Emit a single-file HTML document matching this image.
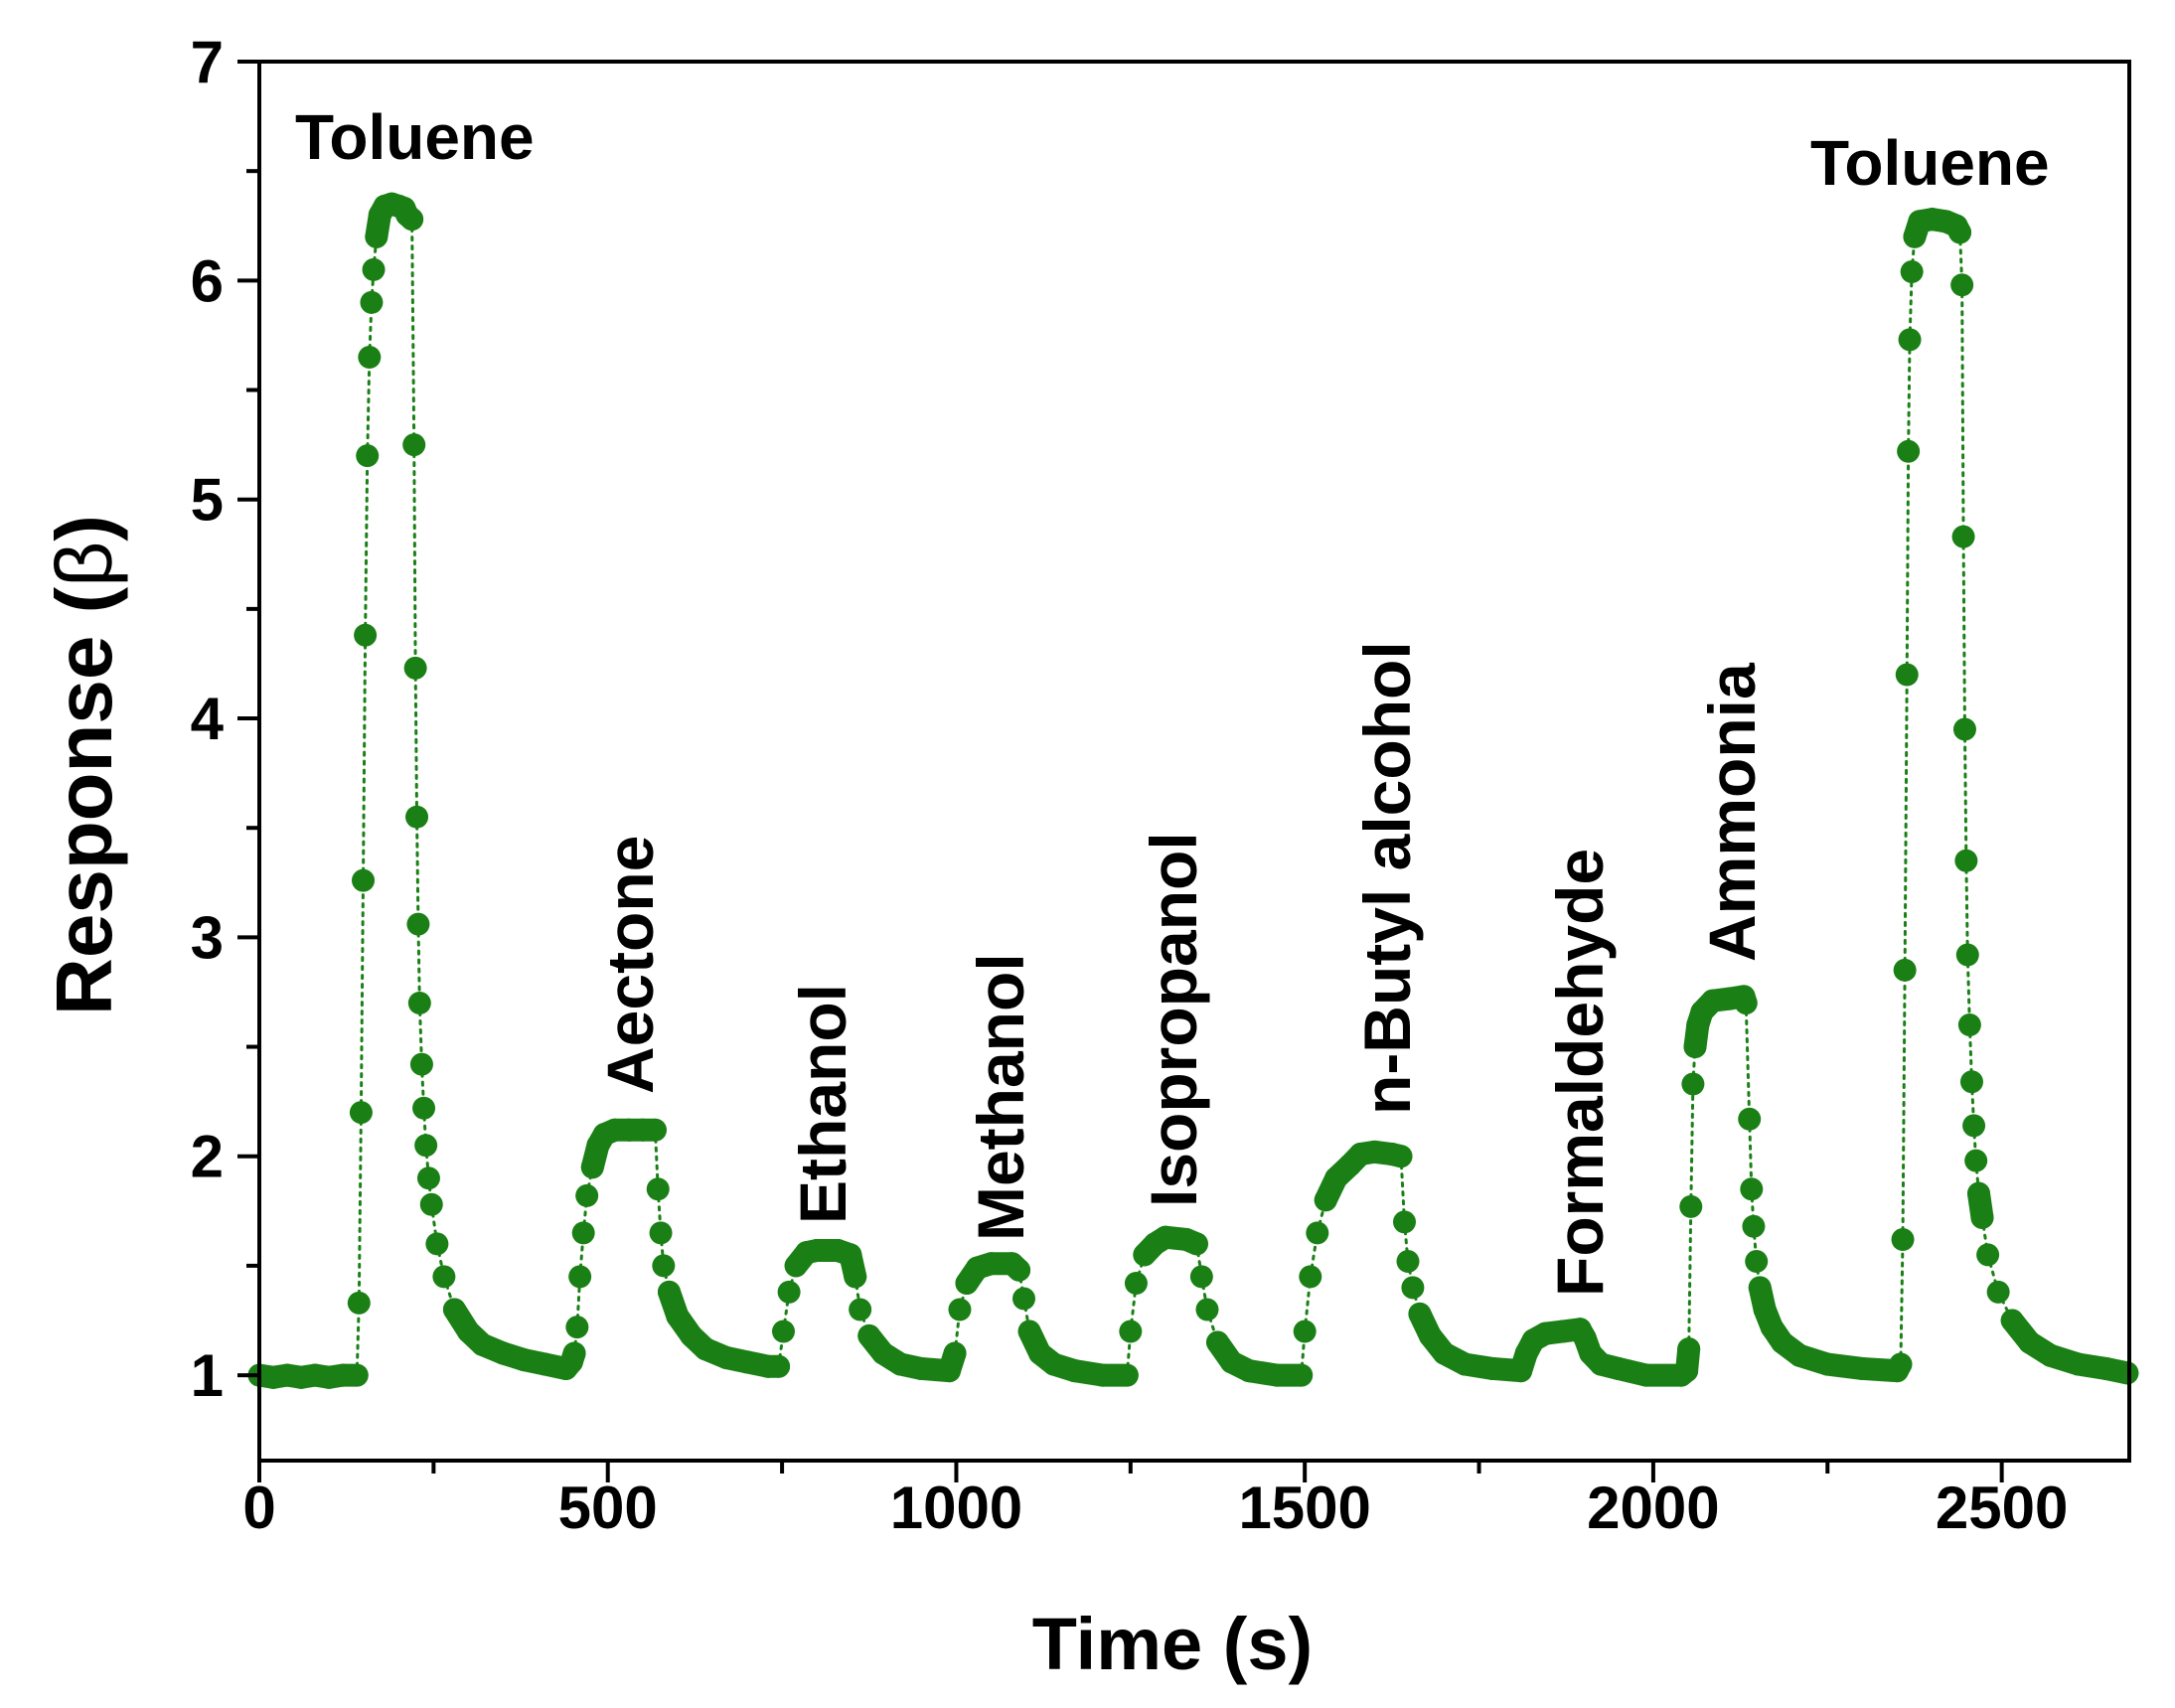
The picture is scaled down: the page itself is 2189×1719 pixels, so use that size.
<!DOCTYPE html>
<html><head><meta charset="utf-8"><style>
html,body{margin:0;padding:0;background:#fff;}
svg{display:block;font-family:"Liberation Sans",Arial,sans-serif;}
</style></head><body>
<svg id="chart" width="2189" height="1719" viewBox="0 0 2189 1719" xmlns="http://www.w3.org/2000/svg">
<g id="marks"></g>
<g id="axes"></g>
<g id="labels"></g>
</svg>
<script>
const times = [0,20,40,60,80,100,120,140,143,146,149,152,155,158,161,164,168,173,180,190,200,208,212,219,222,224,226,228,230,233,236,239,243,247,255,265,280,300,320,350,380,410,440,448,452,456,460,465,470,478,486,495,510,530,550,568,572,576,580,588,600,620,640,670,700,730,745,752,760,770,785,800,830,848,855,862,875,895,920,950,990,998,1005,1015,1030,1050,1080,1090,1097,1105,1120,1140,1170,1210,1245,1250,1258,1270,1285,1300,1330,1345,1352,1360,1375,1395,1420,1460,1495,1500,1508,1518,1530,1545,1565,1580,1600,1625,1638,1643,1648,1655,1665,1680,1700,1730,1770,1810,1818,1828,1845,1870,1895,1902,1910,1925,1950,1990,2040,2048,2051,2054,2057,2060,2064,2070,2085,2110,2130,2133,2138,2141,2144,2148,2153,2160,2170,2185,2210,2250,2300,2350,2355,2358,2361,2364,2366,2368,2371,2375,2382,2400,2420,2435,2440,2443,2445,2447,2449,2451,2454,2457,2460,2463,2467,2472,2480,2495,2515,2540,2570,2610,2650,2680];
const values = [1.0,0.99,1.0,0.99,1.0,0.99,1.0,1.0,1.33,2.2,3.26,4.38,5.2,5.65,5.9,6.05,6.2,6.3,6.34,6.35,6.34,6.33,6.3,6.28,5.25,4.23,3.55,3.06,2.7,2.42,2.22,2.05,1.9,1.78,1.6,1.45,1.3,1.2,1.14,1.1,1.07,1.05,1.03,1.06,1.1,1.22,1.45,1.65,1.82,1.95,2.05,2.1,2.12,2.12,2.12,2.12,1.85,1.65,1.5,1.38,1.27,1.18,1.12,1.08,1.06,1.04,1.04,1.2,1.38,1.5,1.56,1.57,1.57,1.55,1.45,1.3,1.18,1.1,1.05,1.03,1.02,1.1,1.3,1.42,1.49,1.51,1.51,1.48,1.35,1.2,1.1,1.05,1.02,1.0,1.0,1.2,1.42,1.55,1.6,1.63,1.62,1.6,1.45,1.3,1.15,1.06,1.02,1.0,1.0,1.2,1.45,1.65,1.8,1.9,1.96,2.01,2.02,2.01,2.0,1.7,1.52,1.4,1.28,1.18,1.1,1.05,1.03,1.02,1.1,1.16,1.19,1.2,1.21,1.17,1.1,1.05,1.03,1.0,1.0,1.02,1.12,1.77,2.33,2.5,2.6,2.66,2.71,2.72,2.73,2.7,2.17,1.85,1.68,1.52,1.4,1.3,1.22,1.15,1.09,1.05,1.03,1.02,1.05,1.62,2.85,4.2,5.22,5.73,6.04,6.2,6.27,6.28,6.27,6.25,6.22,5.98,4.83,3.95,3.35,2.92,2.6,2.34,2.14,1.98,1.83,1.72,1.55,1.38,1.25,1.15,1.09,1.05,1.03,1.01];
const xTickValues = [0,500,1000,1500,2000,2500];
const xTickLabels = ["0","500","1000","1500","2000","2500"];
const yTickValues = [1,2,3,4,5,6,7];
const yTickLabels = ["1","2","3","4","5","6","7"];
const gasNames = ["Aectone","Ethanol","Methanol","Isopropanol","n-Butyl alcohol","Formaldehyde","Ammonia"];

const NS="http://www.w3.org/2000/svg";
const L=261,R=2143,T=62,B=1470;
const X0=0,X1=2683,Y0=0.61,Y1=7;
const sx=t=>L+(t-X0)/(X1-X0)*(R-L);
const sy=v=>B-(v-Y0)/(Y1-Y0)*(B-T);
const GREEN="#1a8015";
function mk(tag,attrs,parent){const e=document.createElementNS(NS,tag);for(const k in attrs)e.setAttribute(k,attrs[k]);parent.appendChild(e);return e;}

const marks=document.getElementById('marks');
for(let i=1;i<times.length;i++){
  const x1=sx(times[i-1]),y1=sy(values[i-1]),x2=sx(times[i]),y2=sy(values[i]);
  const jump=Math.abs(y2-y1)>25 && Math.abs(x2-x1)<15;
  const seg=mk('line',{x1:x1,y1:y1,x2:x2,y2:y2,stroke:GREEN,'stroke-linecap':'round',
    'stroke-width':jump?3:23,'stroke-dasharray':jump?'3 6':'none'},marks);
  
  
}
for(let i=0;i<times.length;i++){
  const c=mk('circle',{cx:sx(times[i]),cy:sy(values[i]),r:11.5,fill:GREEN},marks);
  
  
}

const axes=document.getElementById('axes');
const frame=mk('rect',{x:L,y:T,width:R-L,height:B-T,fill:'none',stroke:'#000','stroke-width':4},axes);


for(let i=0;i<xTickValues.length;i++){
  const x=sx(xTickValues[i]);
  const tk=mk('line',{x1:x,y1:B,x2:x,y2:B+22,stroke:'#000','stroke-width':4},axes);
  
  
  const tl=mk('text',{x:x,y:1538,'text-anchor':'middle','font-size':60,'font-weight':'bold'},axes);
  tl.textContent=xTickLabels[i];
  
  
  if(i<xTickValues.length-1){
    const xm=sx(xTickValues[i]+250);
    const mt=mk('line',{x1:xm,y1:B,x2:xm,y2:B+13,stroke:'#000','stroke-width':4},axes);
    
    
  }
}
for(let i=0;i<yTickValues.length;i++){
  const y=sy(yTickValues[i]);
  const tk=mk('line',{x1:L-22,y1:y,x2:L,y2:y,stroke:'#000','stroke-width':4},axes);
  
  
  const tl=mk('text',{x:225,y:y+21,'text-anchor':'end','font-size':60,'font-weight':'bold'},axes);
  tl.textContent=yTickLabels[i];
  
  
  if(i<yTickValues.length-1){
    const ym=sy(yTickValues[i]+0.5);
    const mt=mk('line',{x1:L-13,y1:ym,x2:L,y2:ym,stroke:'#000','stroke-width':4},axes);
    
    
  }
}
const xt=mk('text',{x:1180,y:1680,'text-anchor':'middle','font-size':74,'font-weight':'bold'},axes);
xt.textContent='Time (s)';


const yt=mk('text',{transform:'translate(112,770) rotate(-90)','text-anchor':'middle','font-size':80,'font-weight':'bold'},axes);
yt.innerHTML='Response (<tspan font-weight="normal">β</tspan>)';



const labels=document.getElementById('labels');
const t1=mk('text',{x:297,y:160,'font-size':64,'font-weight':'bold'},labels);
t1.textContent='Toluene';


const t2=mk('text',{x:1822,y:186,'font-size':64,'font-weight':'bold'},labels);
t2.textContent='Toluene';


const rotPos=[[634,1101],[828,1232],[1007,1249],[1181,1215],[1396,1122],[1590,1305],[1743,968]];
for(let i=0;i<gasNames.length;i++){
  const g=mk('text',{transform:`translate(${rotPos[i][0]+23},${rotPos[i][1]}) rotate(-90)`,'font-size':66,'font-weight':'bold'},labels);
  g.textContent=gasNames[i];
  
  
}
</script>
</body></html>
